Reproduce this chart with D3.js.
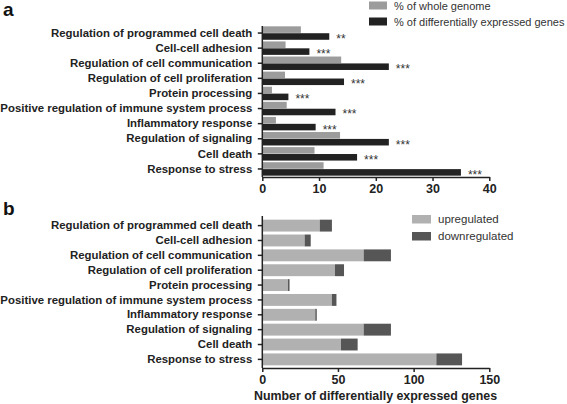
<!DOCTYPE html>
<html><head><meta charset="utf-8">
<script src="https://cdn.jsdelivr.net/npm/d3@7"></script>
<style>
body{margin:0;background:#fff;}
svg{display:block;font-family:"Liberation Sans",Arial,sans-serif;}
</style></head>
<body><svg id="c" width="567" height="404"></svg>
<script>
const categories = ["Regulation of programmed cell death","Cell-cell adhesion","Regulation of cell communication","Regulation of cell proliferation","Protein processing","Positive regulation of immune system process","Inflammatory response","Regulation of signaling","Cell death","Response to stress"];
const pctGenome = [6.8,4.1,13.9,4.0,1.7,4.3,2.4,13.7,9.2,10.8];
const pctDEG = [11.8,8.3,22.3,14.4,4.6,12.9,9.4,22.3,16.7,35.0];
const significance = ["**","***","***","***","***","***","***","***","***","***"];
const upregulated = [38,28,67,48,17,46,35,67,52,115];
const downregulated = [8,4,18,6,1,3,1,18,11,17];
const ticksA = [0,10,20,30,40];
const ticksB = [0,50,100,150];
const seriesA = ["% of whole genome","% of differentially expressed genes"];
const seriesB = ["upregulated","downregulated"];

const svg = d3.select("#c");
const colA = ["#9c9c9c","#222222"];
const colB = ["#b1b1b1","#565656"];
const labelFont = "bold 11.4px 'Liberation Sans', Arial, sans-serif";

function yAxis(g, y, x0, top, bottom){
  const ax = d3.axisLeft(y).tickSize(4.5).tickPadding(5.5);
  g.attr("transform",`translate(${x0},0)`).call(ax);
  g.select(".domain").attr("d",`M0,${top}V${bottom}`).attr("stroke","#222").attr("stroke-width",1.5);
  g.selectAll(".tick line").attr("stroke","#222").attr("stroke-width",1.5);
  g.selectAll(".tick text").style("font",labelFont).attr("fill","#222");
}
function xAxis(g, x, y0, ticks){
  const ax = d3.axisBottom(x).tickValues(ticks).tickSize(4).tickPadding(3).tickSizeOuter(0);
  g.attr("transform",`translate(0,${y0})`).call(ax);
  g.select(".domain").attr("stroke","#222").attr("stroke-width",1.5);
  g.selectAll(".tick line").attr("stroke","#222").attr("stroke-width",1.5);
  g.selectAll(".tick text").style("font","bold 12.5px 'Liberation Sans', Arial, sans-serif").attr("fill","#222");
}

// ---- Panel a
const xa = d3.scaleLinear().domain([0,40]).range([262.3,489.3]);
const ya = d3.scaleBand().domain(categories).range([25.5,176.5]).padding(0);
const sub = d3.scaleBand().domain(seriesA).range([0,ya.bandwidth()]).paddingInner(0.05).paddingOuter(0.12);
const ga = svg.append("g");
ga.selectAll("rect.g").data(categories).join("rect")
  .attr("x",xa(0)).attr("y",d=>ya(d)+sub(seriesA[0]))
  .attr("width",(d,i)=>xa(pctGenome[i])-xa(0)).attr("height",sub.bandwidth()).attr("fill",colA[0]);
ga.selectAll("rect.d").data(categories).join("rect")
  .attr("x",xa(0)).attr("y",d=>ya(d)+sub(seriesA[1]))
  .attr("width",(d,i)=>xa(pctDEG[i])-xa(0)).attr("height",sub.bandwidth()).attr("fill",colA[1]);
ga.selectAll("text.sig").data(categories).join("text")
  .attr("x",(d,i)=>xa(pctDEG[i])+7).attr("y",d=>ya(d)+sub(seriesA[1])+sub.bandwidth()/2+6.5)
  .style("font","12px 'Liberation Sans', Arial, sans-serif").attr("fill","#333")
  .text((d,i)=>significance[i]);
yAxis(ga.append("g"), ya, xa(0), 26, 177);
xAxis(ga.append("g"), xa, 177, ticksA);

// legend a
const la = svg.append("g");
seriesA.forEach((s,i)=>{
  la.append("rect").attr("x",369).attr("y",1.5+i*16).attr("width",18).attr("height",8).attr("fill",colA[i]);
  la.append("text").attr("x",394).attr("y",9.5+i*16).style("font","11px 'Liberation Sans', Arial, sans-serif").attr("fill","#333").text(s);
});
svg.append("text").attr("x",3).attr("y",16).style("font","bold 19px 'Liberation Sans', Arial, sans-serif").attr("fill","#111").text("a");

// ---- Panel b
const xb = d3.scaleLinear().domain([0,150]).range([262.3,489.3]);
const yb = d3.scaleBand().domain(categories).range([216.7,368.3]).padding(0.2);
const stack = d3.stack().keys([0,1])(categories.map((c,i)=>[upregulated[i],downregulated[i]]));
const gb = svg.append("g");
stack.forEach((layer,k)=>{
  gb.selectAll(null).data(layer).join("rect")
    .attr("x",d=>xb(d[0])).attr("y",(d,i)=>yb(categories[i]))
    .attr("width",d=>xb(d[1])-xb(d[0])).attr("height",yb.bandwidth()).attr("fill",colB[k]);
});
yAxis(gb.append("g"), yb, xb(0), 216, 368);
xAxis(gb.append("g"), xb, 368, ticksB);
svg.append("text").attr("x",375.5).attr("y",400).attr("text-anchor","middle")
  .style("font","bold 12.4px 'Liberation Sans', Arial, sans-serif").attr("fill","#222")
  .text("Number of differentially expressed genes");
const lb = svg.append("g");
seriesB.forEach((s,i)=>{
  lb.append("rect").attr("x",412).attr("y",215+i*17).attr("width",19).attr("height",8.5).attr("fill",colB[i]);
  lb.append("text").attr("x",438).attr("y",223+i*17).style("font","11.5px 'Liberation Sans', Arial, sans-serif").attr("fill","#333").text(s);
});
svg.append("text").attr("x",3).attr("y",214.5).style("font","bold 19px 'Liberation Sans', Arial, sans-serif").attr("fill","#111").text("b");
</script></body></html>
